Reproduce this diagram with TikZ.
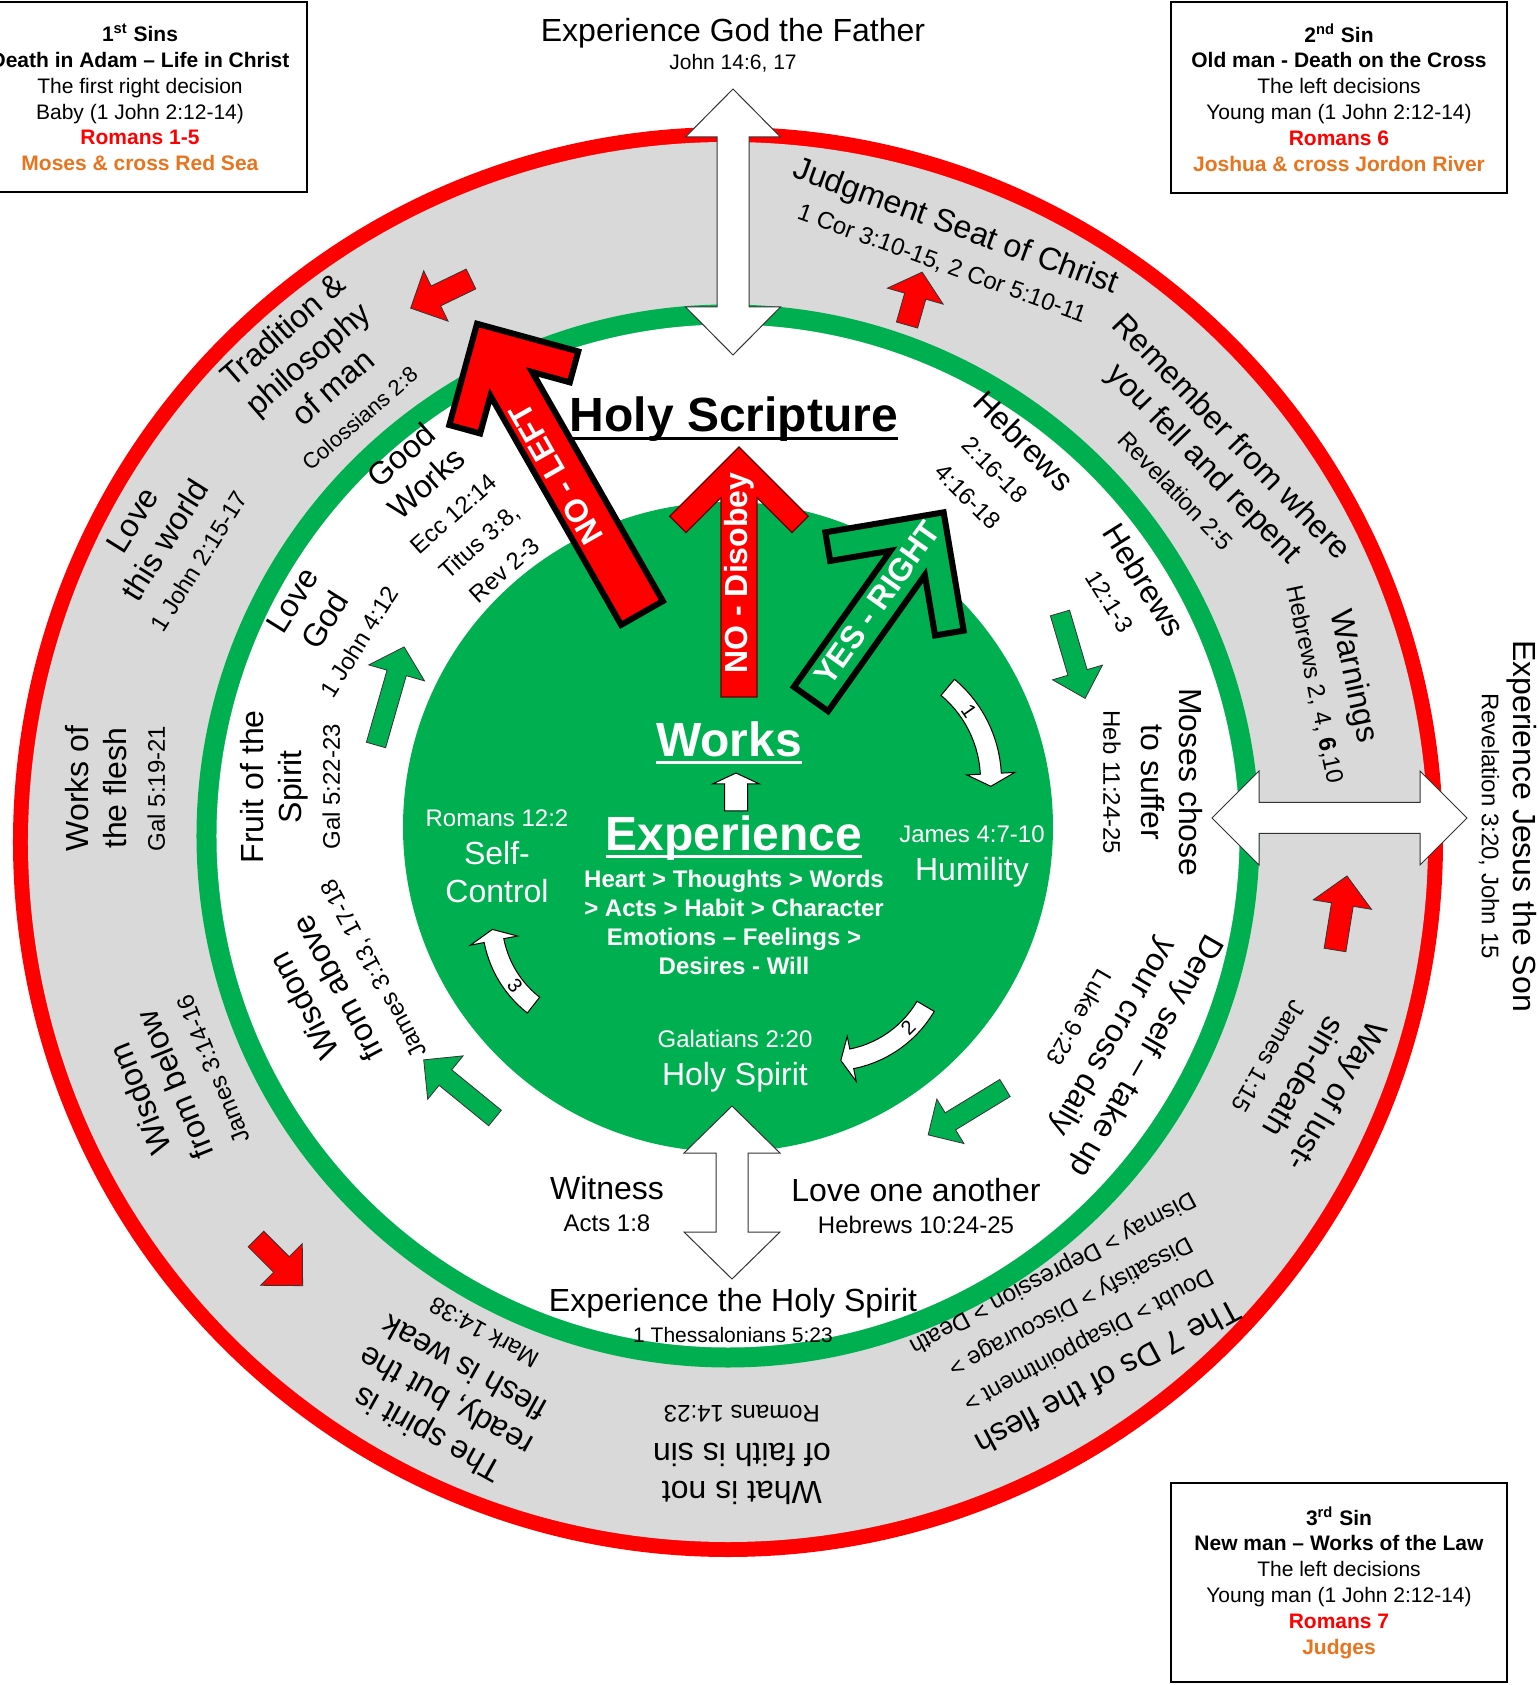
\documentclass[tikz,border=0pt]{standalone}
\usepackage{fontspec}
\setmainfont{Liberation Sans}

\definecolor{holygreen}{RGB}{0,176,80}
\definecolor{ringgrey}{RGB}{217,217,217}
\definecolor{boxorange}{RGB}{232,116,30}

\newcommand{\headsize}{\fontsize{16}{19}\selectfont}
\newcommand{\refsize}{\fontsize{12}{14}\selectfont}

% straight block arrow: style, tail, angle, length, shaft half width, head half width, head length
\newcommand{\blkarrow}[7]{%
  \draw[#1, shift={#2}, rotate=#3] (0,-#5) -- ({#4-#7},-#5) -- ({#4-#7},-#6) -- (#4,0)
    -- ({#4-#7},#6) -- ({#4-#7},#5) -- (0,#5) -- cycle;}
% chevron arrow: style, tail, angle, length, shaft half width, wing length, wing thickness
\newcommand{\chevarrow}[7]{%
  \draw[#1, shift={#2}, rotate=#3] (0,-#5) -- ({#4-1.414*#7-#5},-#5)
    -- ({#4-0.707*(#6+#7)},{-0.707*(#6-#7)}) -- ({#4-0.707*#6},{-0.707*#6}) -- (#4,0)
    -- ({#4-0.707*#6},{0.707*#6}) -- ({#4-0.707*(#6+#7)},{0.707*(#6-#7)})
    -- ({#4-1.414*#7-#5},#5) -- (0,#5) -- cycle;}
% double arrow: centre, angle, half length, shaft half width, head half width, head length
\newcommand{\dblarrow}[6]{%
  \draw[wdouble, shift={#1}, rotate=#2] (-#3,0) -- ({-#3+#6},#5) -- ({-#3+#6},#4) -- ({#3-#6},#4)
    -- ({#3-#6},#5) -- (#3,0) -- ({#3-#6},-#5) -- ({#3-#6},-#4) -- ({-#3+#6},-#4)
    -- ({-#3+#6},-#5) -- cycle;}
% curved arrow: centre, start angle, head angle, radius, half width, head half width, tip angle
\newcommand{\curvarrow}[7]{%
  \draw[curvarr, shift={#1}] plot[domain=#2:#3, samples=15] (\x:{#4-#5}) -- (#3:{#4-#6}) -- (#7:#4)
    -- (#3:{#4+#6}) -- plot[domain=#3:#2, samples=15] (\x:{#4+#5}) -- cycle;}

\tikzset{
  ringtxt/.style={align=center, inner sep=0pt, font=\headsize},
  disktxt/.style={align=center, inner sep=0pt, text=white},
  sinbox/.style={draw, line width=1pt, align=center, inner sep=0pt, font=\fontsize{10.5}{12.9}\selectfont},
  garrow/.style={fill=holygreen, draw=black!80, line width=0.4pt},
  rarrow/.style={fill=red, draw=black!80, line width=0.4pt},
  wdouble/.style={fill=white, draw=black!80, line width=0.5pt},
  curvarr/.style={fill=white, draw=black, line width=0.5pt},
  bigred/.style={fill=red, draw=black, line width=3pt},
  thinred/.style={fill=red, draw=black!60!red, line width=0.6pt},
  biggreen/.style={fill=holygreen, draw=black, line width=3pt},
}

\begin{document}
\begin{tikzpicture}[x=0.5pt, y=0.5pt]
	\fill[white] (-728,-843) rectangle (810,842);
	\useasboundingbox (-728,-843) rectangle (810,842);

	% rings and disk
	\fill[red] (0,0) circle[radius=357.5pt];
	\fill[ringgrey] (0,0) circle[radius=350pt];
	\fill[holygreen] (0,6) circle[radius=265.75pt];
	\fill[white] (0,6) circle[radius=255.75pt];
	\fill[holygreen] (0,15) circle[radius=162.5pt];

	\dblarrow{(5,620)}{90}{133}{16}{47.5}{48}
	\dblarrow{(611.5,24)}{0}{127.5}{15.5}{47}{47}
	\dblarrow{(4,-350.5)}{90}{86.5}{16}{48}{47}

	\blkarrow{rarrow}{(-257,563)}{205.8}{67}{11}{28}{28}
	\blkarrow{rarrow}{(179,517)}{74}{55}{11}{29}{25}
	\blkarrow{rarrow}{(607,-108)}{80.8}{75}{11}{29.5}{29}
	\blkarrow{rarrow}{(-472,-397)}{-45}{66}{11}{29.5}{30}

	\blkarrow{garrow}{(332,229)}{-73.6}{89}{10}{26}{27}
	\blkarrow{garrow}{(277,-246)}{211.4}{90}{10}{26}{26}
	\blkarrow{garrow}{(-233,-276)}{140.8}{92}{10}{28}{28}
	\blkarrow{garrow}{(-352,97)}{74}{102}{10}{29}{27}

	\blkarrow{curvarr}{(8,31)}{90}{38}{11.5}{23.5}{11}

	\chevarrow{bigred}{(-86,229)}{119.7}{333}{24}{105}{32}
	\chevarrow{thinred}{(11,145)}{90}{250}{18}{98}{23}
	\chevarrow{biggreen}{(83,143)}{54.6}{229}{21}{120}{29}

	\curvarrow{(142,62)}{50}{3}{121}{10.5}{24}{-3}
	\curvarrow{(102,-108)}{-30.5}{-78.7}{111}{10}{23}{-84.4}
	\curvarrow{(-128,-78)}{232}{191}{108}{10}{24}{185}
	\node[font=\fontsize{10}{12}\selectfont, rotate=-55, inner sep=0pt] (stepone) at (241,131) {1};
	\node[font=\fontsize{10}{12}\selectfont, rotate=45, inner sep=0pt] (steptwo) at (180,-186) {2};
	\node[font=\fontsize{10}{12}\selectfont, rotate=-52, inner sep=0pt] (stepthree) at (-213,-144) {3};

	% texts on the arrows
	\node[disktxt, font=\headsize\bfseries, rotate=119.7] (noleft) at (-172,368) {NO - LEFT};
	\node[disktxt, font=\headsize\bfseries, rotate=90] (nodisobey) at (11,269) {NO - Disobey};
	\node[disktxt, font=\headsize\bfseries, rotate=54.6] (yesright) at (149,239) {YES - RIGHT};

	% disk
	\node[inner sep=0pt, font=\fontsize{24}{28}\selectfont\bfseries] (scripture) at (6,423) {Holy Scripture};
	\draw[line width=1.5pt] ([yshift=-3.5pt]scripture.base west) -- ([yshift=-3.5pt]scripture.base east);
	\node[disktxt, font=\fontsize{24}{28}\selectfont\bfseries] (works) at (1,103) {Works};
	\draw[white, line width=1.5pt] ([yshift=-3pt]works.base west) -- ([yshift=-3pt]works.base east);
	\node[disktxt, font=\fontsize{24}{28}\selectfont\bfseries] (experience) at (6,4) {Experience};
	\draw[white, line width=1.5pt] ([yshift=-3pt]experience.base west) -- ([yshift=-3pt]experience.base east);
	\node[disktxt, font=\fontsize{12}{14.5}\selectfont\bfseries] (chain) at (6,-80)
		{Heart > Thoughts > Words\\{>} Acts > Habit > Character\\Emotions – Feelings >\\Desires - Will};
	\node[disktxt, font=\headsize] (selfcontrol) at (-231,-14) {{\refsize Romans 12:2}\\Self-\\Control};
	\node[disktxt, font=\headsize] (humility) at (244,-14) {{\refsize James 4:7-10}\\Humility};
	\node[disktxt, font=\headsize] (holyspirit) at (7,-219) {{\refsize Galatians 2:20}\\Holy Spirit};

	% white ring
	\node[ringtxt, rotate=42] (goodworks) at (129.9:431) {Good\\Works\\{\refsize Ecc 12:14}\\{\refsize Titus 3:8,}\\{\refsize Rev 2-3}};
	\node[ringtxt, rotate=58] (lovegod) at (151.2:460) {Love\\God\\{\refsize 1 John 4:12}};
	\node[ringtxt, rotate=90] (fruit) at (172.8:441) {Fruit of the\\Spirit\\{\refsize Gal 5:22-23}};
	\node[ringtxt, rotate=118] (wisdomabove) at (200.5:416) {Wisdom\\from above\\{\refsize James 3:13, 17-18}};
	\node[ringtxt, rotate=-120] (denyself) at (-26.9:434) {Deny self – take up\\your cross daily\\{\refsize Luke 9:23}};
	\node[ringtxt, rotate=-90] (moses) at (8:429) {Moses chose\\to suffer\\{\refsize Heb 11:24-25}};
	\node[ringtxt, rotate=-58] (hebtwelve) at (32.2:473) {Hebrews\\{\refsize 12:1-3}};
	\node[ringtxt, rotate=-45] (hebtwo) at (54.3:461) {Hebrews\\{\refsize 2:16-18}\\{\refsize 4:16-18}};
	\node[ringtxt] (witness) at (-121,-362) {Witness\\[-3pt]{\refsize Acts 1:8}};
	\node[ringtxt] (loveone) at (188,-364) {Love one another\\[-3pt]{\refsize Hebrews 10:24-25}};

	% grey ring
	\node[ringtxt, rotate=41] (tradition) at (131:622) {Tradition \&\\philosophy\\of man\\{\fontsize{11}{13}\selectfont Colossians 2:8}};
	\node[ringtxt, rotate=58] (loveworld) at (151.8:639) {Love\\this world\\{\refsize 1 John 2:15-17}};
	\node[ringtxt, rotate=90] (worksflesh) at (175:615) {Works of\\the flesh\\{\refsize Gal 5:19-21}};
	\node[ringtxt, rotate=112] (wisdombelow) at (203.7:604) {Wisdom\\from below\\{\refsize James 3:14-16}};
	\node[ringtxt, rotate=151] (spiritready) at (243.3:608) {The spirit is\\ready, but the\\flesh is weak\\{\refsize Mark 14:38}};
	\node[ringtxt, rotate=180] (notfaith) at (271.3:613) {What is not\\of faith is sin\\{\refsize Romans 14:23}};
	\node[ringtxt, rotate=-152] (sevends) at (-53.9:598) {The 7 Ds of the flesh\\{\refsize Doubt > Disappointment >}\\{\refsize Dissatisfy > Discourage >}\\{\refsize Dismay > Depression > Death}};
	\node[ringtxt, rotate=-120] (lust) at (-22.2:623) {Way of lust-\\sin-death\\{\refsize James 1:15}};
	\node[ringtxt, rotate=-78] (warnings) at (14.9:629) {Warnings\\{\refsize Hebrews 2, 4, \textbf{6},10}};
	\node[ringtxt, rotate=-46] (remember) at (38.5:610) {Remember from where\\you fell and repent\\{\refsize Revelation 2:5}};
	\node[ringtxt, rotate=-20] (judgment) at (69.7:638) {Judgment Seat of Christ\\{\refsize 1 Cor 3:10-15, 2 Cor 5:10-11}};

	% outside
	\node[inner sep=0pt, font=\headsize] (father) at (5,809) {Experience God the Father};
	\node[inner sep=0pt, font=\fontsize{10.5}{12}\selectfont] (fatherref) at (5,779) {John 14:6, 17};
	\node[inner sep=0pt, font=\headsize, rotate=-90] (son) at (794,16) {Experience Jesus the Son};
	\node[inner sep=0pt, font=\refsize, rotate=-90] (sonref) at (761,16) {Revelation 3:20, John 15};
	\node[inner sep=0pt, font=\headsize] (spirit) at (5,-461) {Experience the Holy Spirit};
	\node[inner sep=0pt, font=\fontsize{10.5}{12}\selectfont] (spiritref) at (5,-493) {1 Thessalonians 5:23};

	\node[sinbox, minimum width=167pt, minimum height=95pt] (sinone) at (-588,744.5)
		{\textbf{1\textsuperscript{st} Sins}\\\textbf{Death in Adam – Life in Christ}\\The first right decision\\Baby (1 John 2:12-14)\\\textcolor{red}{\textbf{Romans 1-5}}\\\textcolor{boxorange}{\textbf{Moses \& cross Red Sea}}};
	\node[sinbox, minimum width=168pt, minimum height=95.5pt] (sintwo) at (611,744.5)
		{\textbf{2\textsuperscript{nd} Sin}\\\textbf{Old man - Death on the Cross}\\The left decisions\\Young man (1 John 2:12-14)\\\textcolor{red}{\textbf{Romans 6}}\\\textcolor{boxorange}{\textbf{Joshua \& cross Jordon River}}};
	\node[sinbox, minimum width=168pt, minimum height=99.5pt] (sinthree) at (611,-740.5)
		{\textbf{3\textsuperscript{rd} Sin}\\\textbf{New man – Works of the Law}\\The left decisions\\Young man (1 John 2:12-14)\\\textcolor{red}{\textbf{Romans 7}}\\\textcolor{boxorange}{\textbf{Judges}}};
\end{tikzpicture}
\end{document}
